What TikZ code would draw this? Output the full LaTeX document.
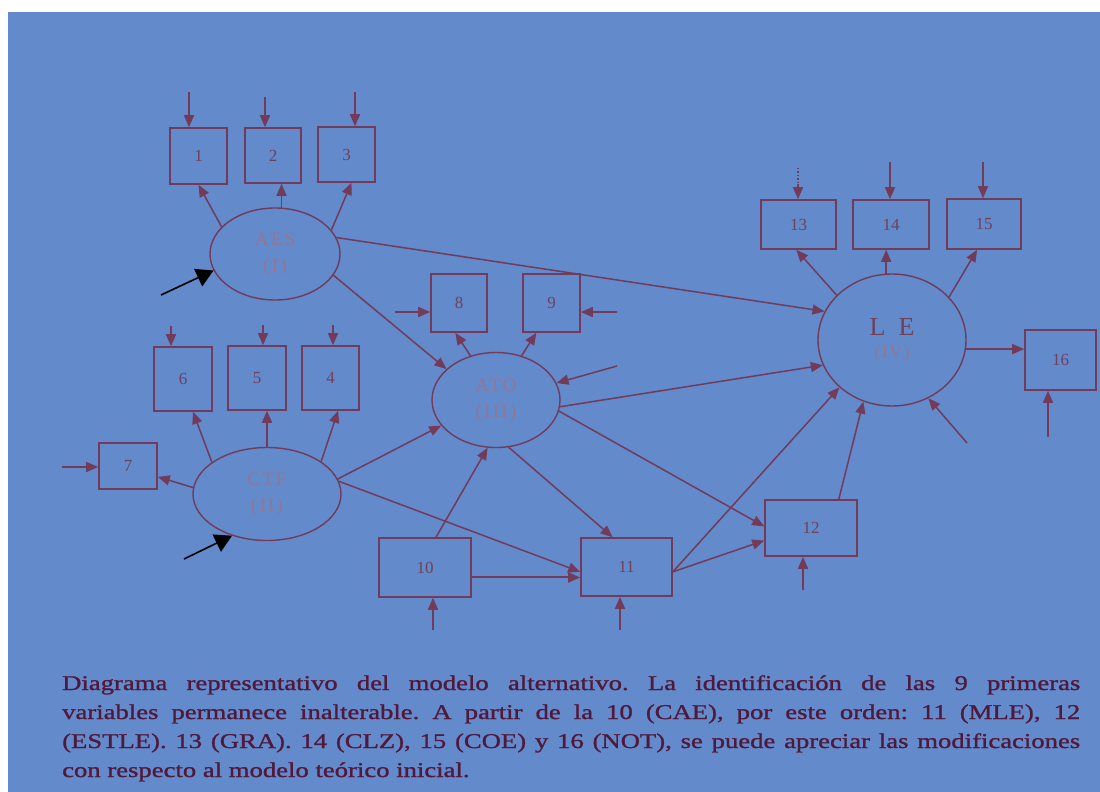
\documentclass[tikz,border=0pt]{standalone}
\usepackage{fontspec}
\setmainfont{Liberation Serif}
\newfontfamily\capfont{Liberation Serif}[FakeStretch=1.27,FakeBold=1.2]
\newfontfamily\latfont{Liberation Serif}[LetterSpace=12]
\usetikzlibrary{arrows.meta,shapes.geometric}
\definecolor{bg}{RGB}{99,138,203}
\definecolor{ln}{RGB}{115,58,90}
\definecolor{lbl}{RGB}{145,118,150}
\definecolor{num}{RGB}{110,65,92}
\definecolor{cap}{RGB}{80,25,60}
\begin{document}
\frenchspacing
\begin{tikzpicture}[x=1pt,y=-1pt,
  box/.style={draw=ln,line width=1.6pt,inner sep=0pt,font=\fontsize{17}{17}\selectfont,text=num},
  lat/.style={ellipse,draw=ln,line width=1.4pt,inner sep=0pt,align=center,text=lbl,font=\latfont\fontsize{19}{26}\selectfont},
  arr/.style={draw=ln,line width=1.5pt,-{Triangle[length=12pt,width=10pt]}},
  pointer/.style={draw=black,line width=1.6pt,-{Triangle[length=17pt,width=19pt]}},
  captext/.style={anchor=base west,inner sep=0pt,text=cap,font=\capfont\fontsize{21}{29}\selectfont}
]
\useasboundingbox (0,0) rectangle (1100,792);
\fill[white] (0,0) rectangle (1100,792);
\fill[bg] (8,12) rectangle (1100,792);

% latent variables
\node[lat,minimum width=130pt,minimum height=92pt] (aes) at (275,254) {AES\\(I)};
\node[lat,minimum width=148pt,minimum height=93pt] (ctf) at (267,494) {CTF\\(II)};
\node[lat,minimum width=128pt,minimum height=95pt] (ato) at (496,400) {ATO\\(III)};
\node[lat,minimum width=148pt,minimum height=132pt,text=num,font=\fontsize{26}{28}\selectfont] (le) at (892,340) {L\enspace E\\[-6pt]{\color{lbl}\latfont\fontsize{17}{17}\selectfont (IV)}};

% observed variables
\node[box,minimum width=57pt,minimum height=56pt] (b1) at (198.5,156) {1};
\node[box,minimum width=56pt,minimum height=55pt] (b2) at (273,155.5) {2};
\node[box,minimum width=57pt,minimum height=55pt] (b3) at (346.5,154.5) {3};
\node[box,minimum width=58pt,minimum height=64pt] (b6) at (183,379) {6};
\node[box,minimum width=58pt,minimum height=64pt] (b5) at (257,378) {5};
\node[box,minimum width=57pt,minimum height=64pt] (b4) at (330.5,378) {4};
\node[box,minimum width=58pt,minimum height=46pt] (b7) at (128,466) {7};
\node[box,minimum width=56pt,minimum height=58pt] (b8) at (459,303) {8};
\node[box,minimum width=57pt,minimum height=58pt] (b9) at (551.5,303) {9};
\node[box,minimum width=92pt,minimum height=59pt] (b10) at (425,567.5) {10};
\node[box,minimum width=91pt,minimum height=58pt] (b11) at (626.5,567) {11};
\node[box,minimum width=92pt,minimum height=56pt] (b12) at (811,528) {12};
\node[box,minimum width=75pt,minimum height=49pt] (b13) at (798.5,224.5) {13};
\node[box,minimum width=76pt,minimum height=49pt] (b14) at (891,224.5) {14};
\node[box,minimum width=74pt,minimum height=50pt] (b15) at (984,224) {15};
\node[box,minimum width=71pt,minimum height=60pt] (b16) at (1060.5,360) {16};

% error terms
\coordinate (e1) at (189,92);
\coordinate (e2) at (265,97);
\coordinate (e3) at (355,92);
\coordinate (e6) at (171,326);
\coordinate (e5) at (263,325);
\coordinate (e4) at (333,325);
\coordinate (e7) at (62,467);
\coordinate (e8) at (395,312);
\coordinate (e9) at (617,312);
\coordinate (eato) at (617,366);
\coordinate (e10) at (433,630);
\coordinate (e11) at (620,630);
\coordinate (e12) at (803,590);
\coordinate (e13) at (798,184);
\coordinate (e13d) at (798,168);
\coordinate (e14) at (890,162);
\coordinate (e15) at (983,162);
\coordinate (e16) at (1048,437);
\coordinate (ele) at (967,443);
\coordinate (k1) at (161,295);
\coordinate (k2) at (184,559);

\draw[arr] (e1) -- (e1 |- b1.north);
\draw[arr] (e2) -- (e2 |- b2.north);
\draw[arr] (e3) -- (e3 |- b3.north);
\draw[arr] (e6) -- (e6 |- b6.north);
\draw[arr] (e5) -- (e5 |- b5.north);
\draw[arr] (e4) -- (e4 |- b4.north);
\draw[arr] (e7) -- (e7 -| b7.west);
\draw[arr] (e8) -- (e8 -| b8.west);
\draw[arr] (e9) -- (e9 -| b9.east);
\draw[arr] (eato) -- (ato);
\draw[arr] (e10) -- (e10 |- b10.south);
\draw[arr] (e11) -- (e11 |- b11.south);
\draw[arr] (e12) -- (e12 |- b12.south);
\draw[ln,line width=1.4pt,dotted] (e13d) -- (e13);
\draw[arr] (e13) -- (e13 |- b13.north);
\draw[arr] (e14) -- (e14 |- b14.north);
\draw[arr] (e15) -- (e15 |- b15.north);
\draw[arr] (e16) -- (e16 |- b16.south);
\draw[arr] (ele) -- (le.-58);

% measurement arrows
\draw[arr] (aes.153) -- (b1.south);
\draw[arr] (aes.82) -- (aes.82 |- b2.south);
\draw[arr] (aes.23) -- (b3.-80);
\draw[arr] (ctf.150) -- (b6.-73);
\draw[arr] (ctf.north) -- (ctf.north |- b5.south);
\draw[arr] (ctf.31) -- (b4.-77);
\draw[arr] (ctf.175) -- (b7.-20);
\draw[arr] (ato.120) -- (b8.-97);
\draw[arr] (ato.60) -- (b9.-117);
\draw[arr] (le.141) -- (b13.-95);
\draw[arr] (le.95) -- (le.95 |- b14.south);
\draw[arr] (le.37) -- (b15.-105);
\draw[arr] (le.-7) -- (le.-7 -| b16.west);

% structural arrows
\draw[arr] (aes.-20) -- (ato.148);
\draw[arr] (aes.15) -- (le.157);
\draw[arr] (ctf.12) -- (ato.205);
\draw[arr] (ctf.10) -- (b11.186);
\draw[arr] (b10.70) -- (ato.-100);
\draw[arr,line width=2pt] (b10.-12) -- (b10.-12 -| b11.west);
\draw[arr] (ato.-75) -- (b11.115);
\draw[arr] (ato.-10) -- (b12.178);
\draw[arr] (ato.-6) -- (le.200);
\draw[arr] (b11.-6) -- (b12.195);
\draw[arr] (b11.-6) -- (le.222);
\draw[arr] (b12.46) -- (le.245);

% pointers
\draw[pointer] (k1) -- (aes.195);
\draw[pointer] (k2) -- (ctf.230);

% caption
\node[captext] (c1) at (62,690) {\makebox[1018pt][s]{Diagrama representativo del modelo alternativo. La identificación de las 9 primeras}};
\node[captext] (c2) at (62,719) {\makebox[1018pt][s]{variables permanece inalterable. A partir de la 10 (CAE), por este orden: 11 (MLE), 12}};
\node[captext] (c3) at (62,748) {\makebox[1018pt][s]{(ESTLE). 13 (GRA). 14 (CLZ), 15 (COE) y 16 (NOT), se puede apreciar las modificaciones}};
\node[captext] (c4) at (62,777) {con respecto al modelo teórico inicial.};
\end{tikzpicture}
\end{document}
